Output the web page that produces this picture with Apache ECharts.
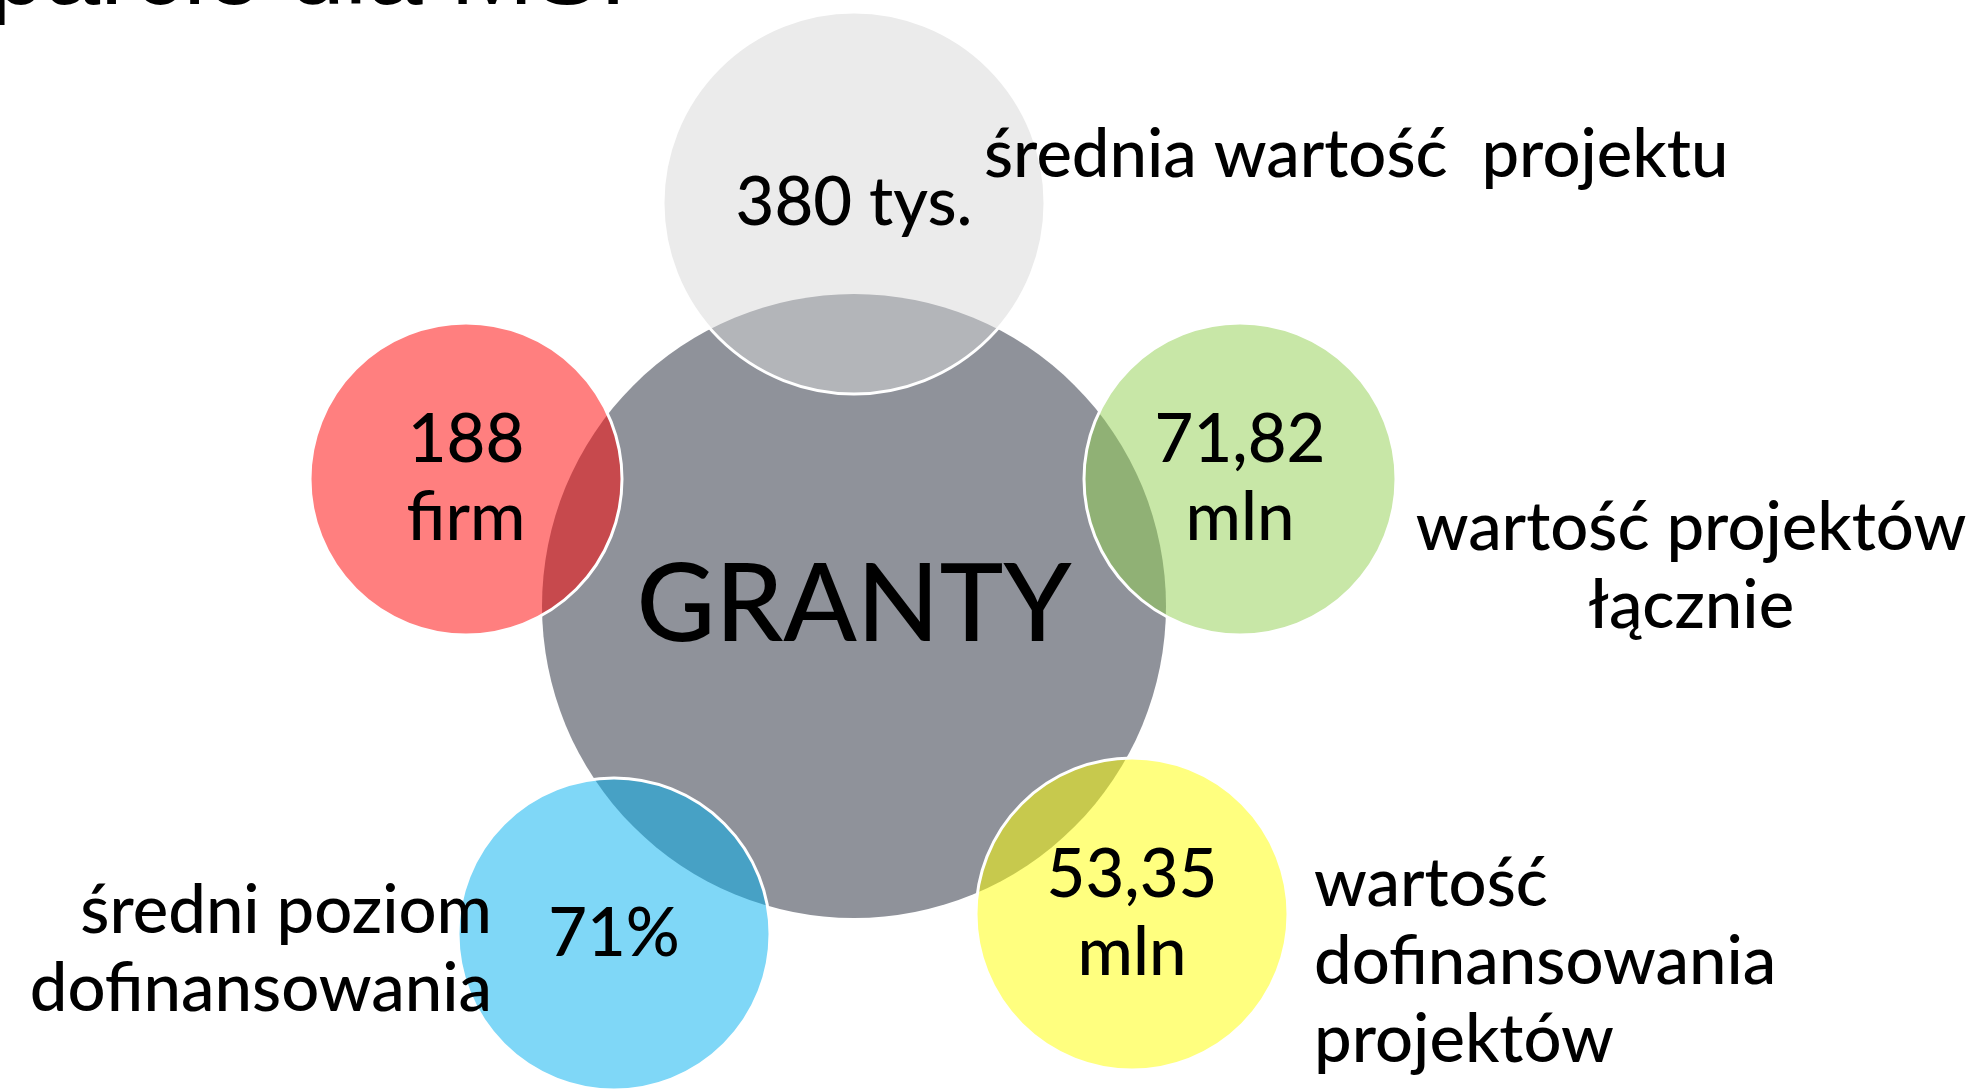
<!DOCTYPE html>
<html>
<head>
<meta charset="utf-8">
<script src="https://cdn.jsdelivr.net/npm/echarts@6/dist/echarts.min.js"></script>
<style>
html,body{margin:0;padding:0;background:#fff;}
#chart{width:1983px;height:1090px;}
</style>
</head>
<body>
<div id="chart"></div>
<script>
// ---- data ----
const titleText = 'Wsparcie dla MŚP';
const circleNames = ['GRANTY', 'średnia wartość projektu', 'liczba firm', 'wartość projektów łącznie', 'średni poziom dofinansowania', 'wartość dofinansowania projektów'];
const circleValues = ['GRANTY', '380 tys.', '188\nfirm', '71,82\nmln', '71%', '53,35\nmln'];
const descLabels = ['średnia wartość  projektu', 'wartość projektów\nłącznie', 'wartość\ndofinansowania\nprojektów', 'średni poziom\ndofinansowania'];

// ---- layout (pixel space of the canvas) ----
const circleCenters = [[854, 606], [854, 203], [466, 479], [1240, 479], [614, 934], [1132, 914]];
const circleSizes = [624, 382, 312, 312, 312, 312];
const circleColors = ['#8F929A', 'rgba(215,215,215,0.5)', 'rgba(255,0,0,0.5)', 'rgba(146,208,80,0.5)', 'rgba(0,176,240,0.5)', 'rgba(255,255,0,0.5)'];
const descAnchors = [[984, 155], [1691, 567], [1314, 962], [492, 950]];
const descAlign = ['left', 'center', 'left', 'right'];

const FONT = 'Lato';
const chart = echarts.init(document.getElementById('chart'), null, {renderer: 'canvas'});

const circleData = circleCenters.map((c, i) => ({
  name: circleNames[i],
  value: c,
  symbolSize: circleSizes[i],
  itemStyle: {
    color: circleColors[i],
    opacity: 1,
    borderColor: i === 0 ? 'rgba(0,0,0,0)' : '#ffffff',
    borderWidth: i === 0 ? 0 : 3
  },
  label: {
    show: true,
    position: 'inside',
    formatter: circleValues[i],
    fontFamily: FONT,
    fontWeight: 500,
    fontSize: i === 0 ? 108 : 67,
    lineHeight: 78,
    color: '#000',
    opacity: 1
  }
}));

const descData = descAnchors.map((a, i) => ({
  name: descLabels[i],
  value: a,
  label: {
    show: true,
    position: 'inside',
    align: descAlign[i],
    verticalAlign: 'middle',
    formatter: descLabels[i],
    fontFamily: FONT,
    fontWeight: 500,
    fontSize: 67,
    lineHeight: 78,
    color: '#000',
    opacity: 1
  }
}));

chart.setOption({
  animation: false,
  backgroundColor: '#ffffff',
  grid: {left: 0, right: 0, top: 0, bottom: 0},
  xAxis: {type: 'value', min: 0, max: 1983, show: false},
  yAxis: {type: 'value', min: 0, max: 1090, inverse: true, show: false},
  graphic: [{
    type: 'text',
    x: 667,
    y: -24,
    silent: true,
    style: {
      text: titleText,
      font: '100px "Liberation Sans", Arial, sans-serif',
      fill: '#000',
      textAlign: 'right',
      textVerticalAlign: 'middle'
    }
  }],
  series: [
    {
      type: 'scatter',
      symbol: 'circle',
      silent: true,
      emphasis: {disabled: true},
      itemStyle: {opacity: 1},
      data: circleData,
      z: 2
    },
    {
      type: 'scatter',
      symbol: 'circle',
      symbolSize: 0,
      silent: true,
      emphasis: {disabled: true},
      itemStyle: {color: 'rgba(0,0,0,0)', opacity: 1},
      data: descData,
      z: 3
    }
  ]
});
</script>
</body>
</html>
